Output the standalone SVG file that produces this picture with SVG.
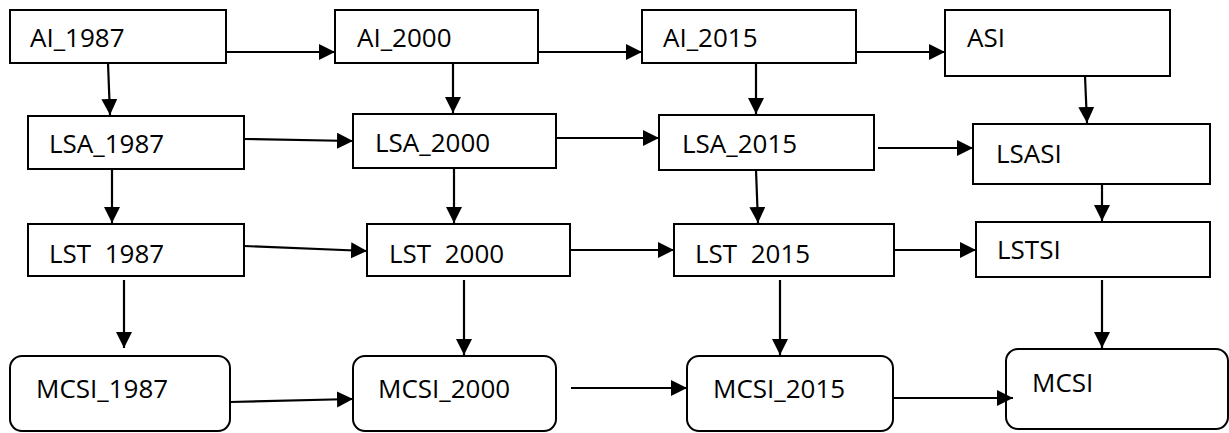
<svg xmlns="http://www.w3.org/2000/svg" width="1229" height="433" viewBox="0 0 1229 433">
<style>
.box{fill:#fff;stroke:#000;stroke-width:2}
.lbl{font-family:"Open Sans","Liberation Sans",sans-serif;font-size:26px;fill:#000}
.conn line{stroke:#000;stroke-width:2.2;marker-end:url(#ah)}
</style>
<defs>
<marker id="ah" markerUnits="userSpaceOnUse" markerWidth="17" markerHeight="17" refX="16" refY="8" orient="auto">
<path d="M0,0 L16,8 L0,16 z" fill="#000"/>
</marker>
</defs>
<rect width="1229" height="433" fill="#fff"/>
<g id="n_ai1987"><rect class="box" x="10" y="10" width="216" height="53"/><text class="lbl" x="30" y="47">AI_1987</text></g>
<g id="n_ai2000"><rect class="box" x="335" y="10" width="203" height="53"/><text class="lbl" x="357" y="47">AI_2000</text></g>
<g id="n_ai2015"><rect class="box" x="642" y="10" width="214" height="53"/><text class="lbl" x="663" y="47">AI_2015</text></g>
<g id="n_asi"><rect class="box" x="945" y="10" width="225" height="66"/><text class="lbl" x="967" y="47">ASI</text></g>
<g id="n_lsa1987"><rect class="box" x="28" y="116" width="216" height="53"/><text class="lbl" x="49" y="153">LSA_1987</text></g>
<g id="n_lsa2000"><rect class="box" x="353" y="114" width="203" height="54"/><text class="lbl" x="375" y="152">LSA_2000</text></g>
<g id="n_lsa2015"><rect class="box" x="659" y="115" width="215" height="55"/><text class="lbl" x="682" y="153">LSA_2015</text></g>
<g id="n_lsasi"><rect class="box" x="973" y="124" width="237" height="60"/><text class="lbl" x="996" y="163">LSASI</text></g>
<g id="n_lst1987"><rect class="box" x="28" y="224" width="216" height="52"/><text class="lbl" x="49" y="263" xml:space="preserve">LST  1987</text></g>
<g id="n_lst2000"><rect class="box" x="367" y="224" width="203" height="52"/><text class="lbl" x="389" y="263" xml:space="preserve">LST  2000</text></g>
<g id="n_lst2015"><rect class="box" x="674" y="224" width="220" height="52"/><text class="lbl" x="695" y="263" xml:space="preserve">LST  2015</text></g>
<g id="n_lstsi"><rect class="box" x="976" y="222" width="234" height="55"/><text class="lbl" x="997" y="259">LSTSI</text></g>
<g id="n_mcsi1987"><rect class="box" x="10" y="356" width="220" height="75" rx="12"/><text class="lbl" x="36" y="398">MCSI_1987</text></g>
<g id="n_mcsi2000"><rect class="box" x="353" y="356" width="203" height="75" rx="12"/><text class="lbl" x="378" y="398">MCSI_2000</text></g>
<g id="n_mcsi2015"><rect class="box" x="687" y="356" width="206" height="75" rx="12"/><text class="lbl" x="713" y="398">MCSI_2015</text></g>
<g id="n_mcsi"><rect class="box" x="1006" y="349" width="222" height="80" rx="12"/><text class="lbl" x="1032" y="392">MCSI</text></g>
<g id="connectors" class="conn">
<line x1="226" y1="52" x2="335" y2="52"/>
<line x1="538" y1="52" x2="642" y2="52"/>
<line x1="856" y1="52" x2="945" y2="52"/>
<line x1="108" y1="63" x2="110" y2="115"/>
<line x1="453" y1="63" x2="453" y2="113"/>
<line x1="756" y1="63" x2="756" y2="114"/>
<line x1="1085" y1="76" x2="1087" y2="123"/>
<line x1="244" y1="139" x2="353" y2="141"/>
<line x1="556" y1="138" x2="659" y2="138"/>
<line x1="878" y1="148" x2="973" y2="148"/>
<line x1="112" y1="169" x2="112" y2="223"/>
<line x1="454" y1="168" x2="454" y2="223"/>
<line x1="756" y1="170" x2="758" y2="223"/>
<line x1="1102" y1="184" x2="1102" y2="221"/>
<line x1="244" y1="246" x2="367" y2="251"/>
<line x1="570" y1="250" x2="674" y2="250"/>
<line x1="894" y1="250" x2="976" y2="250"/>
<line x1="124" y1="280" x2="124" y2="348"/>
<line x1="464" y1="280" x2="464" y2="355"/>
<line x1="780" y1="280" x2="780" y2="355"/>
<line x1="1102" y1="280" x2="1102" y2="348"/>
<line x1="230" y1="402" x2="353" y2="399"/>
<line x1="571" y1="388" x2="687" y2="388"/>
<line x1="893" y1="398" x2="1013" y2="398"/>
</g>
</svg>
